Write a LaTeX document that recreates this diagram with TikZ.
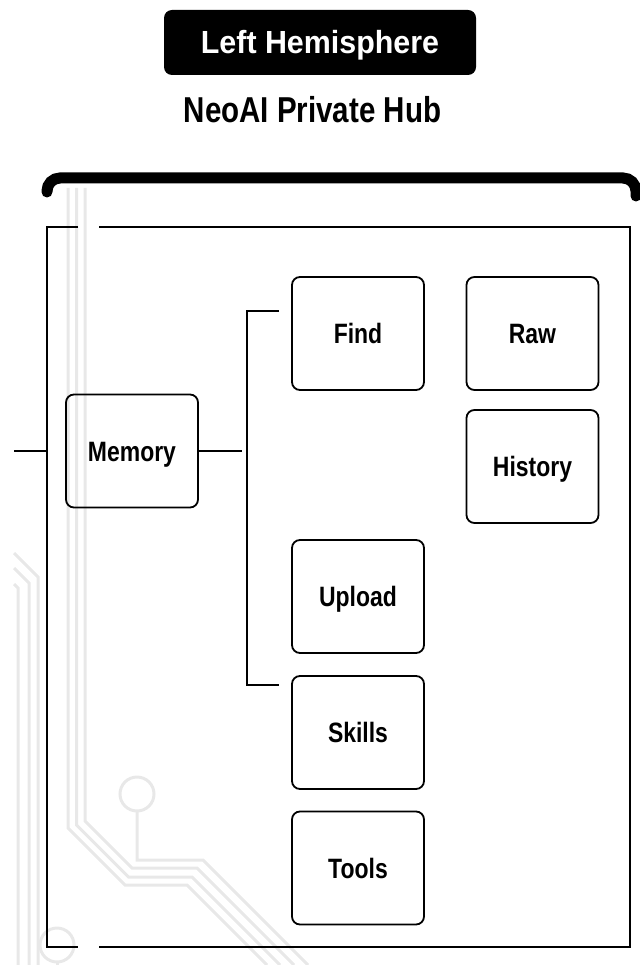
\documentclass[tikz,border=0pt]{standalone}
\usepackage{fontspec}
\usepackage{tikz}
\usetikzlibrary{calc}
\setmainfont{Liberation Sans}
\newfontfamily\hubfont{Liberation Sans}[FakeStretch=0.82]
\newfontfamily\tagfont{Liberation Sans}[FakeStretch=0.95]
\definecolor{tracegray}{RGB}{232,232,232}

\begin{document}
\begin{tikzpicture}[x=1pt,y=-1pt,
  hubbox/.style={draw,line width=1.8pt,rounded corners=8pt,minimum width=132pt,minimum height=113pt,inner sep=0pt,font=\hubfont\bfseries\fontsize{28}{30}\selectfont,text height=20pt,text depth=0pt},
  wire/.style={line width=1.8pt},
  trace/.style={draw=tracegray,line width=3pt}]

\useasboundingbox (0,0) rectangle (639,965);

% Circuit traces
\foreach \x/\d/\h/\e in {68/57/885/187,76.5/52/877/192,85/47/868/197}
{
\draw[trace] (\x,188) -- (\x,\h-\d) -- (\x+\d,\h) -- (\e,\h) -- (\e+965-\h,965);
}
\foreach \x/\y in {38/553,29/568,18/584}
{
\draw[trace] (14,\y) -- (\x,\y+\x-14) -- (\x,965);
}
\draw[trace] (137,794) circle[radius=17pt];
\draw[trace] (137,811) -- (137,860) -- (203,860) -- (308,965);
\draw[trace] (57,945) circle[radius=17pt];
\draw[trace] (57,962) -- (57,965);

% Top bar
\draw[line width=11pt,line cap=round,rounded corners=13pt] (47,192) -- (47,178) -- (636,178) -- (636,196);

% Frame
\draw[wire] (78,227) -- (47,227) -- (47,947) -- (78,947);
\draw[wire] (99,947) -- (630,947) -- (630,227) -- (99,227);

% Titles
\node[fill=black,rounded corners=8pt,minimum width=312pt,minimum height=65pt,inner sep=0pt,text=white,font=\tagfont\bfseries\fontsize{32}{34}\selectfont,text height=23pt,text depth=0pt] (tag) at (320,42.5) {Left Hemisphere};
\node[font=\hubfont\bfseries\fontsize{36}{38}\selectfont,text height=26pt,text depth=0pt] (hub) at (312.5,110) {NeoAI Private Hub};

% Boxes
\node[hubbox] (memory) at (132,451) {Memory};
\node[hubbox] (find) at (358,333.5) {Find};
\node[hubbox] (raw) at (532.5,333.5) {Raw};
\node[hubbox] (history) at (532.5,466.5) {History};
\node[hubbox] (upload) at (358,596.5) {Upload};
\node[hubbox] (skills) at (358,732.5) {Skills};
\node[hubbox] (tools) at (358,868) {Tools};

% Wires
\coordinate (inlet) at (14,451);
\coordinate (port) at (47,451);
\coordinate (bus) at (242,451);
\coordinate (findtap) at (279,311);
\coordinate (findbend) at (247,311);
\coordinate (skillbend) at (247,685);
\coordinate (skilltap) at (279,685);
\draw[wire] (inlet) -- (port);
\draw[wire] (memory) -- (bus);
\draw[wire] (findtap) -- (findbend) -- (skillbend) -- (skilltap);

\end{tikzpicture}
\end{document}
